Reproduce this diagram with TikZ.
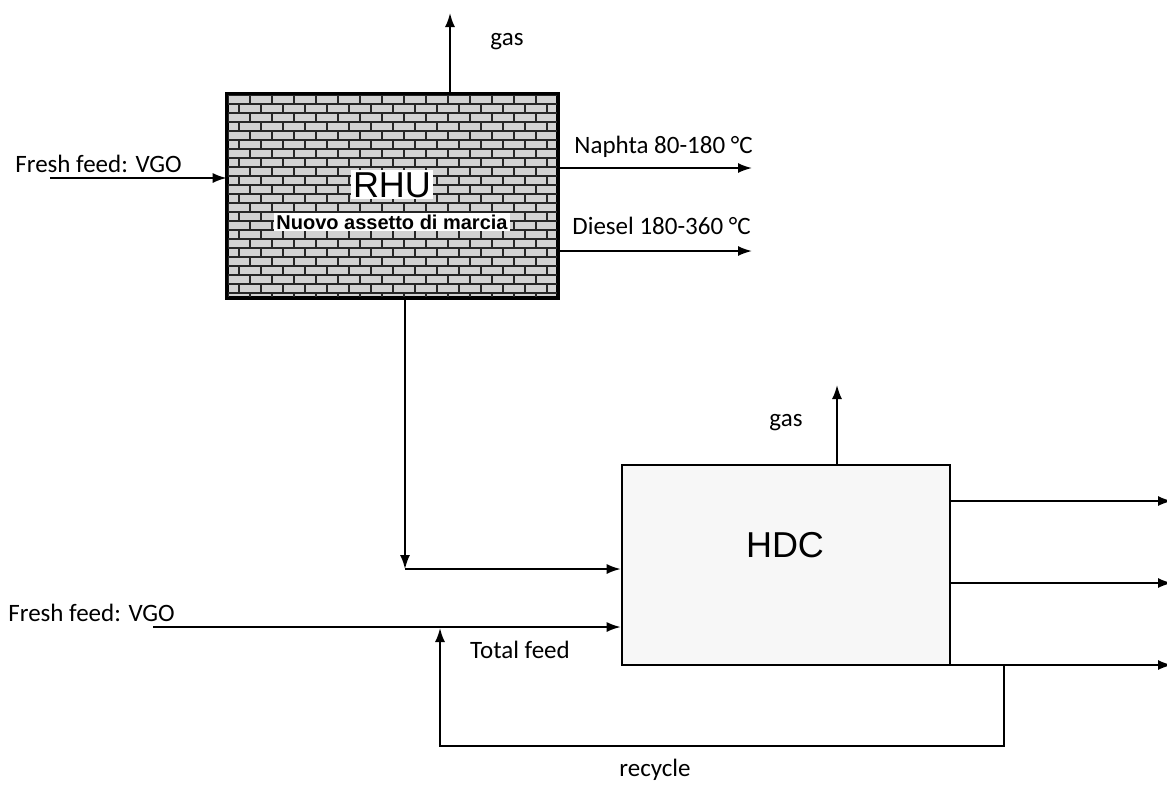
\documentclass[tikz,border=0pt]{standalone}
\usepackage{fontspec}
\setmainfont{Carlito}
\newfontfamily\arialfont{Liberation Sans}
\usepackage{tikz}
\usetikzlibrary{arrows.meta, positioning, calc}

\begin{document}
\begin{tikzpicture}[
  x=0.5pt, y=-0.5pt,
  unitbox/.style={rectangle, draw=black, line width=1.3pt, minimum width=164.5pt, minimum height=101pt, inner sep=0pt},
  brick/.style={draw=black!85, line width=0.6pt},
  flow/.style={-{Latex[length=7pt,width=5pt]}, line width=0.9pt},
  lbl/.style={font=\fontsize{12.5}{14}\selectfont, inner sep=0pt},
  unitname/.style={font=\arialfont\fontsize{18}{20}\selectfont, inner sep=1pt},
]
\useasboundingbox (0,0) rectangle (1167,794);

\node[unitbox, fill=gray!35] (rhu) at (392.5,196) {};
\begin{scope}
  \clip (rhu.south west) rectangle (rhu.north east);
  \foreach \r [evaluate=\r as \off using {mod(\r,2)*11}] in {0,...,22} {
    \draw[brick] (228,95+9*\r) -- (557,95+9*\r);
    \foreach \c in {0,...,15}
      \draw[brick] (228+\off+22*\c,95+9*\r) -- ++(0,9);
  }
\end{scope}
\draw[line width=1.3pt] (rhu.north west) rectangle (rhu.south east);
\node[unitname, fill=white, anchor=base] (rhuname) at (392,197) {RHU};
\node[font=\arialfont\bfseries\fontsize{10}{12}\selectfont, fill=white, inner sep=1pt, anchor=base] (rhunote) at (392,229) {Nuovo assetto di marcia};

\node[unitbox, fill=gray!6, minimum width=164pt, minimum height=100pt] (hdc) at (786,565) {};
\node[unitname, anchor=base] (hdcname) at (785,557) {HDC};

\coordinate (gas1) at (450,13);
\coordinate (feed1) at (50,178);
\coordinate (nafta) at (752,168);
\coordinate (diesel) at (752,251);
\coordinate (down) at (405,569);
\coordinate (feed2) at (153,627);
\coordinate (gas2) at (837,385);
\coordinate (out1) at (1172,501);
\coordinate (out2) at (1172,583);
\coordinate (out3) at (1172,665);
\coordinate (rcstart) at (1004,665);
\coordinate (rccorner) at (440,746);
\coordinate (rcend) at (440,628);

\draw[flow] (gas1 |- rhu.north) -- (gas1);
\draw[flow] (feed1) -- (feed1 -| rhu.west);
\draw[flow] (nafta -| rhu.east) -- (nafta);
\draw[flow] (diesel -| rhu.east) -- (diesel);
\draw[flow] (down |- rhu.south) -- (down);
\draw[flow] (down) -- (down -| hdc.west);
\draw[flow] (feed2) -- (feed2 -| hdc.west);
\draw[flow] (gas2 |- hdc.north) -- (gas2);
\draw[flow] (out1 -| hdc.east) -- (out1);
\draw[flow] (out2 -| hdc.east) -- (out2);
\draw[flow] (out3 -| hdc.east) -- (out3);
\draw[flow] (rcstart) |- (rccorner) -- (rcend);

\node[lbl, anchor=base] (gas1lbl) at (507,45) {gas};
\node[lbl, anchor=base west] (feed1lbl) at (15,172) {Fresh feed: VGO};
\node[lbl, anchor=base west] (naftalbl) at (574,153) {Naphta 80-180 °C};
\node[lbl, anchor=base west] (diesellbl) at (572,234) {Diesel 180-360 °C};
\node[lbl, anchor=base west] (feed2lbl) at (8,621) {Fresh feed: VGO};
\node[lbl, anchor=base] (gas2lbl) at (786,426) {gas};
\node[lbl, anchor=base] (totallbl) at (520,658) {Total feed};
\node[lbl, anchor=base] (rclbl) at (655,776) {recycle};
\end{tikzpicture}
\end{document}
